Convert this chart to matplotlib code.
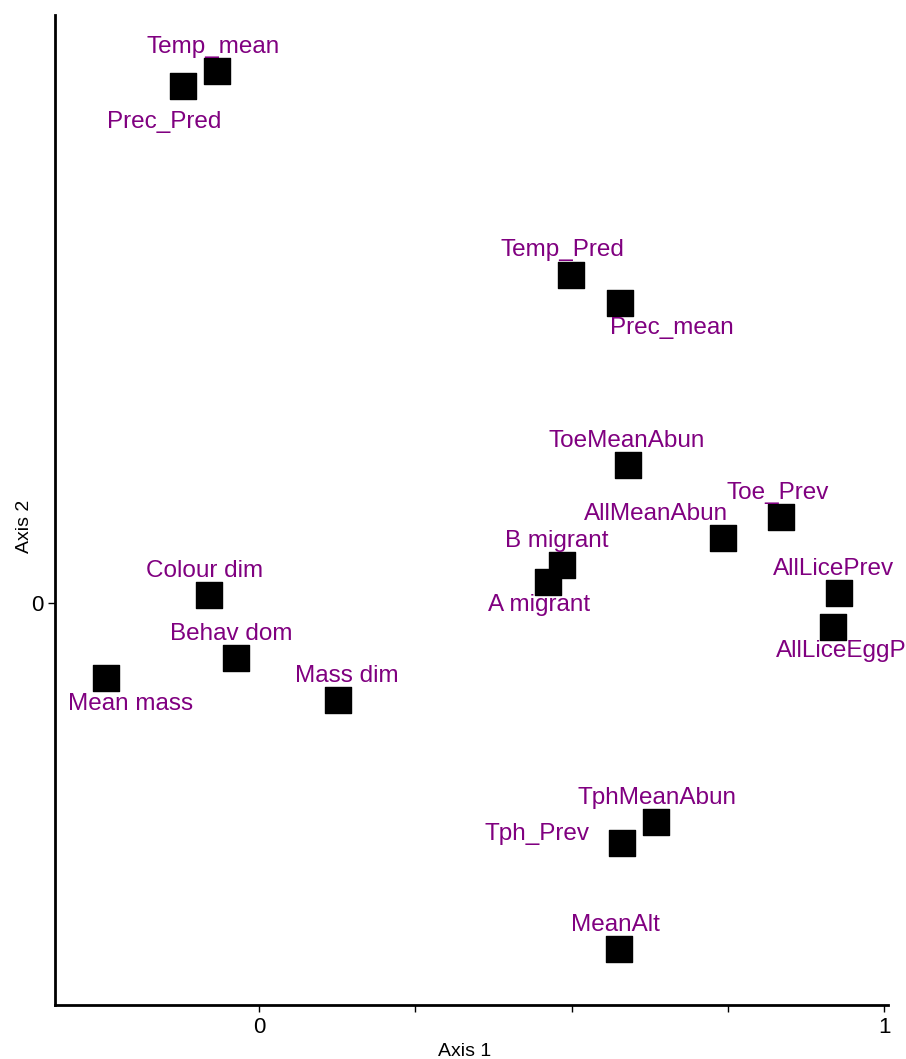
import matplotlib
matplotlib.use("Agg")
import matplotlib.pyplot as plt

plt.rcParams['font.family'] = ['Liberation Sans', 'DejaVu Sans']

# ordination scores
names = ['Temp_mean', 'Prec_Pred', 'Temp_Pred', 'Prec_mean', 'ToeMeanAbun',
         'Toe_Prev', 'AllMeanAbun', 'B migrant', 'A migrant', 'AllLicePrev',
         'AllLiceEggP', 'Colour dim', 'Behav dom', 'Mean mass', 'Mass dim',
         'TphMeanAbun', 'Tph_Prev', 'MeanAlt']
axis1 = [-0.067, -0.122, 0.499, 0.578, 0.590, 0.835, 0.742, 0.485, 0.462,
         0.928, 0.918, -0.080, -0.037, -0.245, 0.126, 0.635, 0.581, 0.576]
axis2 = [0.851, 0.827, 0.525, 0.480, 0.221, 0.138, 0.104, 0.061, 0.034,
         0.016, -0.038, 0.013, -0.088, -0.120, -0.155, -0.350, -0.384, -0.554]

# label placement (pixels from the point)
offsets = {
    'Temp_mean': (-4, 24), 'Prec_Pred': (-18, -36), 'Temp_Pred': (-9, 25),
    'Prec_mean': (51, -25), 'ToeMeanAbun': (-1, 24), 'Toe_Prev': (-3, 24),
    'AllMeanAbun': (-67, 24), 'B migrant': (-5, 24), 'A migrant': (-9, -23),
    'AllLicePrev': (-6, 24), 'AllLiceEggP': (8, -24), 'Colour dim': (-4, 24),
    'Behav dom': (-4, 24), 'Mean mass': (25, -26), 'Mass dim': (9, 24),
    'TphMeanAbun': (1, 24), 'Tph_Prev': (-85, 9), 'MeanAlt': (-4, 24),
}

fig = plt.figure(figsize=(9.06, 10.59), dpi=100)
ax = fig.add_axes([0.0607, 0.051, 0.9195, 0.935])

ax.scatter(axis1, axis2, marker='s', s=330, color='black', zorder=3)
for n, x, y in zip(names, axis1, axis2):
    dx, dy = offsets[n]
    ax.annotate(n, (x, y), xytext=(dx, dy), textcoords='offset pixels',
                ha='center', va='center', color='#800080', fontsize=17.5)

ax.set_xlim(-0.326, 1.006)
ax.set_ylim(-0.643, 0.941)
ax.set_xticks([0, 0.25, 0.5, 0.75, 1])
ax.set_xticklabels(['0', '', '', '', '1'])
ax.set_yticks([0])
ax.set_yticklabels(['0'])
ax.tick_params(labelsize=16, length=5, width=1)
ax.spines['top'].set_visible(False)
ax.spines['right'].set_visible(False)
ax.spines['left'].set_linewidth(2)
ax.spines['bottom'].set_linewidth(2)
ax.set_xlabel('Axis 1', fontsize=14)
ax.set_ylabel('Axis 2', fontsize=14)
ax.xaxis.set_label_coords(0.492, -0.038)
ax.yaxis.set_label_coords(-0.026, 0.483)

fig.savefig('out.png', dpi=100)
